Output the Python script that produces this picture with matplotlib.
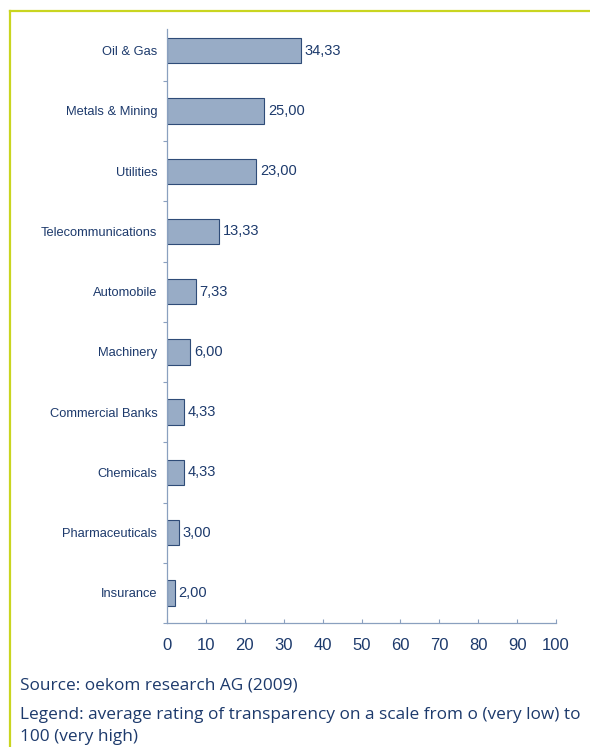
import matplotlib.pyplot as plt
from matplotlib.lines import Line2D
import numpy as np

categories = ['Oil & Gas', 'Metals & Mining', 'Utilities', 'Telecommunications', 'Automobile',
              'Machinery', 'Commercial Banks', 'Chemicals', 'Pharmaceuticals', 'Insurance']
values = [34.33, 25.00, 23.00, 13.33, 7.33, 6.00, 4.33, 4.33, 3.00, 2.00]
x_ticks = [0, 10, 20, 30, 40, 50, 60, 70, 80, 90, 100]

NAVY = '#1d3a6c'
BAR = '#98acc6'
EDGE = '#2f4c78'
AXIS = '#8aa0bf'
FRAME = '#c9d520'

W, H = 590, 747
fig = plt.figure(figsize=(W / 100, H / 100), dpi=100)
ax = fig.add_axes([167 / W, 1 - 623 / H, (556 - 167) / W, (623 - 29) / H])

y = np.arange(len(categories))
ax.barh(y, values, height=0.42, color=BAR, edgecolor=EDGE, linewidth=0.8)
for yi, v in zip(y, values):
    ax.text(v + 1.0, yi, f'{v:.2f}'.replace('.', ','), va='center', ha='left',
            fontsize=10.5, color=NAVY, family='Liberation Sans')

ax.set_ylim(len(categories) - 0.5, -0.36)
ax.set_xlim(0, 100)
ax.set_yticks(y)
ax.set_yticklabels(categories, fontsize=9.3, color=NAVY, family='Liberation Sans')
ax.set_yticks(np.arange(len(categories)) + 0.5, minor=True)
ax.tick_params(axis='y', which='major', length=0, pad=7)
ax.tick_params(axis='y', which='minor', length=3, direction='out', color=AXIS, width=0.8)

ax.set_xticks(x_ticks)
ax.set_xticklabels([str(t) for t in x_ticks], fontsize=12, color=NAVY, family='Liberation Sans')
ax.tick_params(axis='x', length=3, direction='in', color=AXIS, width=0.8, pad=11)

for s in ['top', 'right']:
    ax.spines[s].set_visible(False)
for s in ['left', 'bottom']:
    ax.spines[s].set_color(AXIS)
    ax.spines[s].set_linewidth(0.9)

# frame lines
fig.add_artist(Line2D([10 / W, 1.0], [1 - 11 / H, 1 - 11 / H], color=FRAME, lw=1.6,
                      transform=fig.transFigure))
fig.add_artist(Line2D([10 / W, 10 / W], [1 - 11 / H, 0], color=FRAME, lw=1.6,
                      transform=fig.transFigure))

fig.text(20 / W, 1 - 685 / H, 'Source: oekom research AG (2009)', fontsize=12.4,
         color=NAVY, family='Open Sans', va='center')
fig.text(20 / W, 1 - 715 / H, 'Legend: average rating of transparency on a scale from o (very low) to',
         fontsize=12.4, color=NAVY, family='Open Sans', va='center')
fig.text(20 / W, 1 - 737 / H, '100 (very high)', fontsize=12.4,
         color=NAVY, family='Open Sans', va='center')

fig.savefig('out.png', dpi=100)
